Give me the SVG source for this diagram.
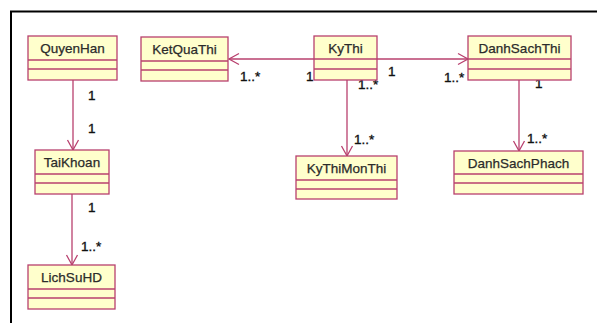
<svg xmlns="http://www.w3.org/2000/svg" width="597" height="323" viewBox="0 0 597 323">
  <style>
    .box { fill: #ffffcc; stroke: #b8406e; stroke-width: 1.3; }
    .sep { stroke: #b8406e; stroke-width: 1.3; }
    .name { font-family: "Liberation Sans", Arial, sans-serif; font-size: 13.5px; fill: #2b2b2b; stroke: #2b2b2b; stroke-width: 0.25; text-anchor: middle; }
    .conn { stroke: #b8406e; stroke-width: 1.3; fill: none; marker-end: url(#open); }
    .mult { font-family: "Liberation Sans", Arial, sans-serif; font-size: 13.5px; fill: #111111; stroke: #111111; stroke-width: 0.35; }
    .frame { stroke: #000000; stroke-width: 2; fill: none; }
  </style>
  <defs>
    <marker id="open" viewBox="-12 -7 14 14" markerWidth="14" markerHeight="14" refX="0" refY="0" orient="auto" markerUnits="userSpaceOnUse">
      <path d="M-10,-5.5 L0,0 L-10,5.5" fill="none" stroke="#b8406e" stroke-width="1.3"/>
    </marker>
  </defs>
  <rect width="597" height="323" fill="#ffffff"/>
  <!-- page frame -->
  <path class="frame" d="M11,323 L11,11.5 L597,11.5"/>

  <g id="connectors">
    <line class="conn" x1="73" y1="80" x2="73" y2="150"/>
    <line class="conn" x1="72" y1="194" x2="72" y2="265"/>
    <line class="conn" x1="314" y1="59" x2="229" y2="59"/>
    <line class="conn" x1="377" y1="59" x2="468" y2="59"/>
    <line class="conn" x1="347" y1="80" x2="347" y2="156"/>
    <line class="conn" x1="519" y1="80" x2="519" y2="151"/>
    <text class="mult" x="88" y="100">1</text>
    <text class="mult" x="88" y="133">1</text>
    <text class="mult" x="88" y="212">1</text>
    <text class="mult" x="81" y="251">1..*</text>
    <text class="mult" x="240" y="81">1..*</text>
    <text class="mult" x="306" y="81">1</text>
    <text class="mult" x="388" y="76">1</text>
    <text class="mult" x="444" y="82">1..*</text>
    <text class="mult" x="358" y="89">1..*</text>
    <text class="mult" x="354" y="144">1..*</text>
    <text class="mult" x="535" y="88">1</text>
    <text class="mult" x="527" y="143">1..*</text>
  </g>

  <g id="QuyenHan">
    <rect class="box" x="28" y="36" width="89" height="44"/>
    <line class="sep" x1="28" y1="60" x2="117" y2="60"/>
    <line class="sep" x1="28" y1="69" x2="117" y2="69"/>
    <text class="name" x="72.5" y="53">QuyenHan</text>
  </g>
  <g id="KetQuaThi">
    <rect class="box" x="141" y="37" width="87" height="44"/>
    <line class="sep" x1="141" y1="61" x2="228" y2="61"/>
    <line class="sep" x1="141" y1="70" x2="228" y2="70"/>
    <text class="name" x="184.5" y="54">KetQuaThi</text>
  </g>
  <g id="KyThi">
    <rect class="box" x="314" y="36" width="63" height="44"/>
    <line class="sep" x1="314" y1="59" x2="377" y2="59"/>
    <line class="sep" x1="314" y1="69" x2="377" y2="69"/>
    <text class="name" x="345.5" y="53">KyThi</text>
  </g>
  <g id="DanhSachThi">
    <rect class="box" x="468" y="36" width="103" height="44"/>
    <line class="sep" x1="468" y1="59" x2="571" y2="59"/>
    <line class="sep" x1="468" y1="69" x2="571" y2="69"/>
    <text class="name" x="519.5" y="53">DanhSachThi</text>
  </g>
  <g id="TaiKhoan">
    <rect class="box" x="35" y="150" width="74" height="44"/>
    <line class="sep" x1="35" y1="174" x2="109" y2="174"/>
    <line class="sep" x1="35" y1="183" x2="109" y2="183"/>
    <text class="name" x="72" y="167">TaiKhoan</text>
  </g>
  <g id="LichSuHD">
    <rect class="box" x="28" y="265" width="87" height="44"/>
    <line class="sep" x1="28" y1="289" x2="115" y2="289"/>
    <line class="sep" x1="28" y1="298" x2="115" y2="298"/>
    <text class="name" x="71.5" y="282">LichSuHD</text>
  </g>
  <g id="KyThiMonThi">
    <rect class="box" x="296" y="156" width="101" height="43"/>
    <line class="sep" x1="296" y1="180" x2="397" y2="180"/>
    <line class="sep" x1="296" y1="189" x2="397" y2="189"/>
    <text class="name" x="346.5" y="173">KyThiMonThi</text>
  </g>
  <g id="DanhSachPhach">
    <rect class="box" x="454" y="151" width="129" height="43"/>
    <line class="sep" x1="454" y1="174" x2="583" y2="174"/>
    <line class="sep" x1="454" y1="183" x2="583" y2="183"/>
    <text class="name" x="518.5" y="168">DanhSachPhach</text>
  </g>
</svg>
